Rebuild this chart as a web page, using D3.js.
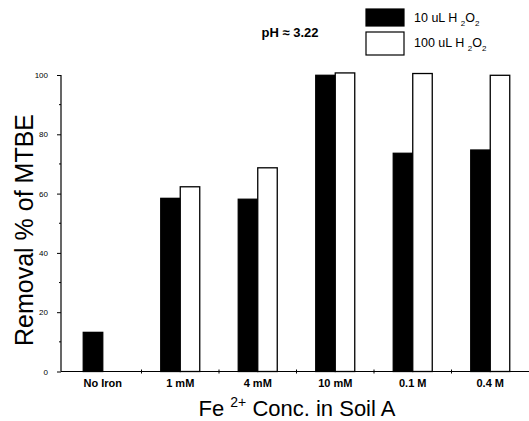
<!DOCTYPE html>
<html>
<head>
<meta charset="utf-8">
<script src="https://cdn.jsdelivr.net/npm/d3@7"></script>
<style>
  body { margin: 0; background: #fff; }
  svg { display: block; font-family: "Liberation Sans", Arial, sans-serif; }
</style>
</head>
<body>
<div id="chart"></div>
<script>
var categories = ["No Iron", "1 mM", "4 mM", "10 mM", "0.1 M", "0.4 M"];
var series = ["10 uL", "100 uL"];
var low = [13.2, 58.4, 58.1, 99.9, 73.6, 74.7];   // 10 uL H2O2
var high = [0, 62.3, 68.7, 100.7, 100.5, 99.9];   // 100 uL H2O2
var yTicks = [0, 20, 40, 60, 80, 100];

var width = 529, height = 421;
var svg = d3.select("#chart").append("svg")
    .attr("width", width)
    .attr("height", height);

var x = d3.scaleBand().domain(categories).range([64, 529]);
var barW = 19.5;
var y = d3.scaleLinear().domain([0, 100]).range([371.5, 75]);

var data = categories.map(function(c, i) {
    return { cat: c, vals: [low[i], high[i]] };
});

// bars
var groups = svg.selectAll(".grp")
    .data(data)
    .enter().append("g")
    .attr("class", "grp");
groups.selectAll("rect")
    .data(function(d) { return d.vals.map(function(v, k) { return { cat: d.cat, v: v, k: k }; }); })
    .enter().filter(function(d) { return d.v > 0; })
    .append("rect")
    .attr("x", function(d) { return x(d.cat) + x.bandwidth() / 2 - barW + d.k * barW; })
    .attr("y", function(d) { return y(d.v); })
    .attr("width", barW)
    .attr("height", function(d) { return y(0) - y(d.v); })
    .style("fill", function(d) { return d.k == 0 ? "#000" : "#fff"; })
    .style("stroke", "#000")
    .style("stroke-width", 1.3);

// y axis
var yAxis = d3.axisLeft(y).tickValues(yTicks).tickSize(4).tickPadding(9);
var gy = svg.append("g").attr("transform", "translate(61,0)").call(yAxis);
gy.select(".domain").attr("d", "M0," + y(0) + "V" + y(100)).style("stroke-width", 1.2);
gy.selectAll("text").style("font-size", "8px").style("font-family", "Liberation Sans, Arial");
gy.selectAll(".minor")
    .data([10, 30, 50, 70, 90])
    .enter().append("line")
    .attr("class", "minor")
    .attr("x1", -2).attr("x2", 0)
    .attr("y1", function(d) { return y(d); })
    .attr("y2", function(d) { return y(d); })
    .style("stroke", "#000");

// x axis
var xAxis = d3.axisBottom(x).tickSize(0).tickPadding(8);
var gx = svg.append("g").attr("transform", "translate(0," + y(0) + ")").call(xAxis);
gx.select(".domain").attr("d", "M61,0H529").style("stroke-width", 1.2);
gx.selectAll("text")
    .style("font-size", "11px")
    .style("font-weight", "bold");
gx.selectAll(".minor")
    .data(categories.slice(1))
    .enter().append("line")
    .attr("class", "minor")
    .attr("x1", function(d) { return x(d); })
    .attr("x2", function(d) { return x(d); })
    .attr("y1", -2).attr("y2", 2)
    .style("stroke", "#000");

// axis titles
svg.append("text")
    .attr("transform", "translate(33,230) rotate(-90)")
    .style("text-anchor", "middle")
    .style("font-size", "25px")
    .text("Removal  % of MTBE");

var xt = svg.append("text")
    .attr("x", 297)
    .attr("y", 416)
    .style("text-anchor", "middle")
    .style("font-size", "22px");
xt.append("tspan").text("Fe ");
xt.append("tspan").attr("dy", -9).style("font-size", "14px").text("2+");
xt.append("tspan").attr("dy", 9).text("  Conc. in Soil A");

// title
svg.append("text")
    .attr("x", 290)
    .attr("y", 37)
    .style("text-anchor", "middle")
    .style("font-size", "13px")
    .style("font-weight", "bold")
    .text("pH \u2248 3.22");

// legend
var legend = svg.selectAll(".leg")
    .data(series)
    .enter().append("g")
    .attr("class", "leg")
    .attr("transform", function(d, i) { return "translate(366," + (i == 0 ? 9 : 32) + ")"; });
legend.append("rect")
    .attr("width", 38)
    .attr("height", function(d, i) { return i == 0 ? 17 : 23; })
    .style("fill", function(d, i) { return i == 0 ? "#000" : "#fff"; })
    .style("stroke", "#000")
    .style("stroke-width", 1.2);
var lt = legend.append("text")
    .attr("x", 48)
    .attr("y", function(d, i) { return i == 0 ? 13 : 15; })
    .style("font-size", "12.5px");
lt.append("tspan").text(function(d) { return d + " H "; });
lt.append("tspan").attr("dy", 4).style("font-size", "8px").text("2");
lt.append("tspan").attr("dy", -4).text("O");
lt.append("tspan").attr("dy", 4).style("font-size", "8px").text("2");
</script>
</body>
</html>
